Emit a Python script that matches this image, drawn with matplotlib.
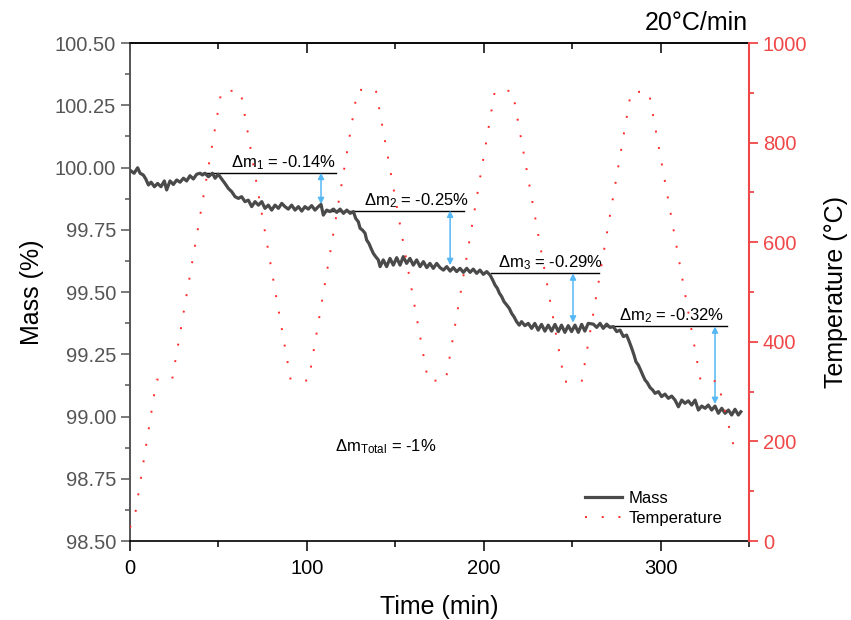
import numpy as np
import matplotlib
matplotlib.use("Agg")
import matplotlib.pyplot as plt
from matplotlib.ticker import MultipleLocator
from matplotlib.lines import Line2D

plt.rcParams["font.family"] = ["Liberation Sans", "DejaVu Sans"]
plt.rcParams["mathtext.fontset"] = "custom"
plt.rcParams["mathtext.rm"] = "Liberation Sans"
plt.rcParams["mathtext.it"] = "Liberation Sans:italic"

GREY = "#4a4a4a"
AXGREY = "#555555"
RED = "#f04848"
DOTRED = "#ff2a2a"
BLUE = "#55b8f5"

# mass curve
mass_t = [0.6, 2.3, 4.3, 5.7, 7.5, 8.9, 10.4, 11.9, 13.8, 15.6,
          17.5, 19.4, 20.7, 22.6, 24.5, 26.4, 28.3, 30.2, 32.0, 33.9,
          35.8, 37.7, 39.6, 40.9, 42.4, 44.3, 46.6, 48.1, 49.9, 51.8,
          53.7, 55.6, 57.5, 59.4, 61.3, 63.1, 65.0, 66.9, 68.8, 70.7,
          72.6, 74.5, 76.3, 78.2, 80.1, 82.0, 83.9, 85.8,
          87.6, 89.5, 91.4, 93.3, 95.2, 97.1, 98.9, 100.8, 102.7, 104.6,
          106.5, 108.0, 109.3, 111.2, 113.1, 115.0, 116.9, 118.8, 120.7, 122.6,
          124.5, 126.3, 127.6, 129.1, 130.1, 131.4, 132.9, 133.8, 135.1, 136.3,
          137.6, 138.9, 140.4, 141.4, 143.2, 145.1, 147.0, 148.9, 150.8, 152.7,
          154.5, 156.4, 158.3, 160.2, 162.1, 164.0, 165.9, 167.8, 169.6, 171.5,
          173.4,
          175.3, 177.2, 179.1, 181.0, 182.8, 184.7, 186.6, 188.5, 190.4, 192.3,
          194.1, 196.0, 197.9, 199.8, 201.7, 203.6, 205.1, 206.4, 207.7, 208.9,
          210.2, 211.5, 213.0, 214.5, 215.8, 217.1, 218.6, 220.1, 221.4, 223.3,
          225.2, 227.1, 228.9, 230.8, 232.7, 234.6, 236.5, 238.4, 240.3, 242.2,
          244.0, 245.9, 247.8, 249.7, 251.6, 253.5, 255.4, 257.2, 259.1,
          262.0, 263.9, 265.8, 267.6, 269.5, 271.4, 273.3, 275.2, 277.1, 279.0,
          280.8, 282.3, 283.7, 285.0, 286.1, 287.4, 288.7, 289.9, 291.2, 292.5,
          294.0, 295.6, 296.9, 298.8, 300.6, 302.5, 304.4, 306.3, 308.2, 310.1,
          312.0, 313.8, 315.7, 317.6, 319.5, 321.4, 323.3, 325.2, 327.0, 328.9,
          330.8, 332.7, 334.6, 336.5, 338.4, 340.2, 342.1, 344.0, 345.4]
mass_pct = [99.986, 99.977, 99.999, 99.977, 99.970, 99.954, 99.930, 99.941, 99.923, 99.936,
            99.923, 99.946, 99.910, 99.946, 99.932, 99.950, 99.941, 99.957, 99.946, 99.967,
            99.954, 99.973, 99.977, 99.970, 99.977, 99.963, 99.977, 99.957, 99.973, 99.954,
            99.936, 99.916, 99.903, 99.883, 99.876, 99.883, 99.863, 99.869, 99.843, 99.863,
            99.849, 99.863, 99.836, 99.849, 99.829, 99.849, 99.836, 99.856,
            99.843, 99.833, 99.849, 99.829, 99.843, 99.825, 99.843, 99.833, 99.847, 99.829,
            99.843, 99.852, 99.809, 99.829, 99.823, 99.833, 99.820, 99.833, 99.816, 99.829,
            99.816, 99.823, 99.796, 99.782, 99.756, 99.749, 99.736, 99.709, 99.695, 99.675,
            99.655, 99.642, 99.629, 99.602, 99.629, 99.602, 99.635, 99.608, 99.638, 99.608,
            99.642, 99.615, 99.635, 99.608, 99.629, 99.602, 99.622, 99.598, 99.615, 99.595,
            99.615,
            99.598, 99.588, 99.602, 99.584, 99.598, 99.582, 99.595, 99.579, 99.595, 99.579,
            99.592, 99.575, 99.588, 99.571, 99.582, 99.568, 99.548, 99.528, 99.515, 99.495,
            99.481, 99.461, 99.448, 99.434, 99.414, 99.401, 99.381, 99.367, 99.381, 99.365,
            99.374, 99.354, 99.374, 99.347, 99.370, 99.343, 99.367, 99.343, 99.370, 99.341,
            99.367, 99.338, 99.365, 99.341, 99.367, 99.338, 99.370, 99.343, 99.374,
            99.371, 99.358, 99.374, 99.354, 99.371, 99.358, 99.361, 99.341, 99.347, 99.321,
            99.327, 99.301, 99.274, 99.247, 99.220, 99.207, 99.187, 99.167, 99.147, 99.136,
            99.117, 99.106, 99.093, 99.100, 99.080, 99.090, 99.073, 99.082, 99.066, 99.039,
            99.066, 99.053, 99.063, 99.046, 99.066, 99.026, 99.042, 99.033, 99.046, 99.026,
            99.042, 99.013, 99.033, 99.013, 99.026, 99.006, 99.029, 99.006, 99.019]

# temperature programme (corners of the profile)
temp_t = [0, 3, 15, 23.8, 51.7, 62.5, 90.8, 101.0, 128.6, 139.0, 168.5, 178.5,
          206.3, 216.3, 245.7, 255.4, 283.3, 293.4, 322.7, 332.3, 343.0]
temp_c = [27, 56, 324, 324, 904, 904, 324, 322, 906, 906, 322, 322,
          904, 904, 320, 320, 902, 902, 321, 321, 167]

# step annotations: reference line (start, end, level), arrow (t, top, bottom)
step_labels = [r"$\Delta$m$_1$ = -0.14%", r"$\Delta$m$_2$ = -0.25%",
               r"$\Delta$m$_3$ = -0.29%", r"$\Delta$m$_2$ = -0.32%"]
line_start = [40.0, 111.4, 204.0, 267.4]
line_end = [116.3, 188.8, 265.0, 337.5]
line_level = [99.979, 99.827, 99.575, 99.362]
label_t = [87.0, 162.0, 238.0, 306.0]
arrow_t = [108.0, 181.0, 250.5, 330.8]
arrow_low = [99.853, 99.608, 99.377, 99.050]

fig = plt.figure(figsize=(8.51, 6.2), dpi=100)
ax = fig.add_axes([0.1528, 0.1274, 0.7273, 0.8032])
ax2 = ax.twinx()

ax.plot(mass_t, mass_pct, color=GREY, lw=2.3, label="Mass", zorder=3)
ax2.plot(temp_t, temp_c, color=DOTRED, lw=1.4, ls=(0, (1, 7.6)),
         label="Temperature")

for lab, x0, x1, lev, tx, at, lo in zip(step_labels, line_start, line_end,
                                        line_level, label_t, arrow_t, arrow_low):
    ax.plot([x0, x1], [lev, lev], color="black", lw=1.0, zorder=2)
    ax.annotate("", xy=(at, lo), xytext=(at, lev),
                arrowprops=dict(arrowstyle="<|-|>", color=BLUE, lw=1.1,
                                mutation_scale=9, shrinkA=0, shrinkB=0))
    ax.text(tx, lev + 0.004, lab, fontsize=12, ha="center", va="bottom")

ax.text(144.6, 98.879, r"$\Delta$m$_{\mathrm{Total}}$ = -1%", fontsize=12,
        ha="center", va="center")

ax.set_xlim(0, 350)
ax.set_ylim(98.5, 100.5)
ax2.set_ylim(0, 1000)

ax.xaxis.set_major_locator(MultipleLocator(100))
ax.xaxis.set_minor_locator(MultipleLocator(50))
ax.yaxis.set_major_locator(MultipleLocator(0.25))
ax.yaxis.set_minor_locator(MultipleLocator(0.125))
ax.yaxis.set_major_formatter(matplotlib.ticker.FormatStrFormatter("%.2f"))
ax2.yaxis.set_major_locator(MultipleLocator(200))
ax2.yaxis.set_minor_locator(MultipleLocator(100))

ax.tick_params(axis="x", which="major", direction="out", length=7, width=1.1,
               labelsize=14.5, colors="black", pad=6)
ax.tick_params(axis="x", which="minor", direction="out", length=4, width=1.1)
ax.tick_params(axis="y", which="major", direction="out", length=6.5, width=1.1,
               labelsize=14.5, colors=AXGREY)
ax.tick_params(axis="y", which="minor", direction="out", length=3.5, width=1.1,
               colors=AXGREY)
ax2.tick_params(axis="y", which="major", direction="out", length=6.5, width=1.3,
                labelsize=14.5, colors=RED)
ax2.tick_params(axis="y", which="minor", direction="out", length=3.5, width=1.3,
                colors=RED)

top = ax.secondary_xaxis("top")
top.xaxis.set_major_locator(MultipleLocator(100))
top.xaxis.set_minor_locator(MultipleLocator(50))
top.tick_params(which="major", direction="in", length=7, width=1.1, labeltop=False)
top.tick_params(which="minor", direction="in", length=4, width=1.1)
top.spines["top"].set_linewidth(1.1)

ax.spines["left"].set_color(AXGREY)
ax.spines["left"].set_linewidth(1.4)
ax.spines["bottom"].set_linewidth(1.2)
ax.spines["right"].set_visible(False)
ax.spines["top"].set_linewidth(1.1)
for s in ("left", "bottom", "top"):
    ax2.spines[s].set_visible(False)
ax2.spines["right"].set_color(RED)
ax2.spines["right"].set_linewidth(1.5)

ax.set_xlabel("Time (min)", fontsize=18, labelpad=12)
ax.set_ylabel("Mass (%)", fontsize=18, labelpad=8)
ax2.set_ylabel("Temperature (\u00b0C)", fontsize=18, labelpad=12)

fig.text(0.879, 0.952, "20\u00b0C/min", fontsize=18, ha="right", va="baseline")

handles = [Line2D([], [], color=GREY, lw=2.3),
           Line2D([], [], color=DOTRED, lw=1.4, ls=(0, (1, 7.6)))]
ax2.legend(handles, ["Mass", "Temperature"], loc="lower left",
           bbox_to_anchor=(0.735, 0.03), frameon=False, fontsize=12,
           handlelength=2.25, handletextpad=0.35, labelspacing=0.3,
           borderpad=0, borderaxespad=0)

fig.savefig("out.png", dpi=100)
